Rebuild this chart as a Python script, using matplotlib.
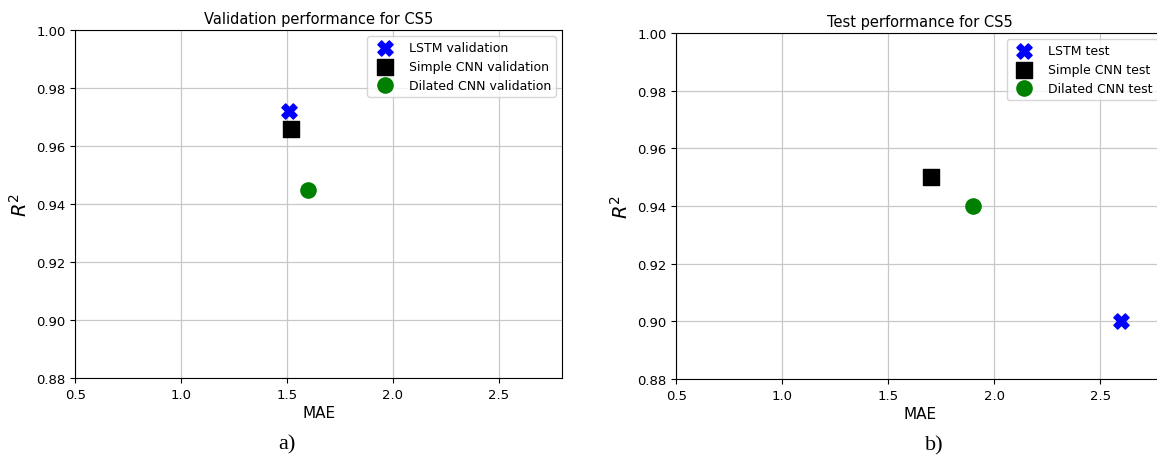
import matplotlib.pyplot as plt

# --- Data ---
models = ["LSTM", "Simple CNN", "Dilated CNN"]
markers = ["X", "s", "o"]
colors = ["blue", "black", "green"]

val_mae = [1.51, 1.52, 1.60]
val_r2 = [0.972, 0.966, 0.945]

test_mae = [2.60, 1.70, 1.90]
test_r2 = [0.900, 0.950, 0.940]

xticks = [0.5, 1.0, 1.5, 2.0, 2.5]
yticks = [0.88, 0.90, 0.92, 0.94, 0.96, 0.98, 1.00]

fig = plt.figure(figsize=(11.57, 4.6), dpi=100)
ax1 = fig.add_axes([0.0651, 0.176, 0.4207, 0.7565])
ax2 = fig.add_axes([0.5845, 0.174, 0.4214, 0.752])


def panel(ax, mae, r2, suffix, title, caption, cap_x):
    for m, mk, c, x, y in zip(models, markers, colors, mae, r2):
        ax.scatter(x, y, marker=mk, color=c, s=120, label=f"{m} {suffix}", zorder=3)
    ax.set_xlim(0.5, 2.8)
    ax.set_ylim(0.88, 1.00)
    ax.set_xticks(xticks)
    ax.set_yticks(yticks)
    ax.tick_params(labelsize=9.5)
    ax.grid(True, color="#c8c8c8", linewidth=0.9)
    ax.set_axisbelow(True)
    ax.set_title(title, fontsize=10.5, pad=5)
    ax.set_xlabel("MAE", fontsize=11, labelpad=3)
    ax.set_ylabel("$R^2$", fontsize=14)
    ax.legend(loc="upper right", fontsize=9, handletextpad=0.9,
              borderpad=0.4, labelspacing=0.45)
    ax.text(cap_x, -0.19, caption, transform=ax.transAxes, ha="center",
            va="center", fontsize=16, family="Liberation Serif")


panel(ax1, val_mae, val_r2, "validation", "Validation performance for CS5", "a)", 0.435)
panel(ax2, test_mae, test_r2, "test", "Test performance for CS5", "b)", 0.53)

fig.savefig("out.png", dpi=100)
